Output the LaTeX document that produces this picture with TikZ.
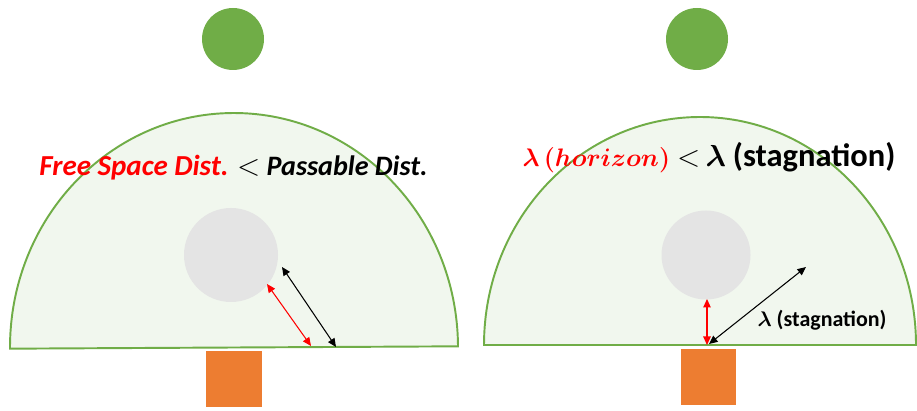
\documentclass[tikz,border=0pt]{standalone}
\usepackage{amsmath,amssymb}
\usepackage{fontspec}
\setsansfont{Carlito}
\usepackage{xcolor}
\usetikzlibrary{arrows.meta}
\definecolor{fovgreen}{HTML}{70AD47}
\definecolor{fovfill}{HTML}{F1F7EE}
\definecolor{obsgray}{HTML}{E4E4E4}
\definecolor{robotorange}{HTML}{ED7D31}
\newcommand{\blam}{\boldsymbol{\lambda}}
\newcommand{\fsz}[1]{\fontsize{#1}{1.2\dimexpr#1pt\relax}\selectfont}

\begin{document}
\begin{tikzpicture}[>={Triangle[length=1.7mm,width=1.5mm]}, font=\sffamily\bfseries, line width=0.6pt,
  dome/.style={draw=fovgreen, fill=fovfill, line width=1.1pt},
  goal/.style={circle, fill=fovgreen, minimum size=12.4mm, inner sep=0pt},
  obst/.style={circle, fill=obsgray, inner sep=0pt},
  robot/.style={fill=robotorange, minimum width=11.1mm, minimum height=11.2mm, inner sep=0pt},
  title/.style={font=\fsz{16}\sffamily\bfseries},
  lbl/.style={font=\fsz{12.5}\sffamily\bfseries}]
\useasboundingbox (0,0) rectangle (18.34,8.2);
%% (a) free space vs passable distance
\begin{scope}
\draw[dome, rotate around={0.3:(4.68,1.25)}] (0.20,1.25) arc[start angle=180, end angle=0, x radius=4.48, y radius=4.69] -- cycle;
\node[goal] (g1) at (4.66,7.42) {};
\node[obst, minimum size=18.8mm] (o1) at (4.62,3.10) {};
\node[robot] (r1) at (4.68,0.62) {};
\coordinate (fa) at (5.34,2.52);
\coordinate (fb) at (6.22,1.28);
\coordinate (pa) at (5.64,2.86);
\coordinate (pb) at (6.72,1.26);
\draw[<->, red] (fa) -- (fb);
\draw[<->] (pa) -- (pb);
\node[title] (t1) at (4.67,4.84) {\textcolor{red}{\fsz{16.5}\itshape Free Space Dist.} $<$ \itshape Passable Dist.};
\end{scope}
%% (b) horizon vs stagnation
\begin{scope}
\draw[dome] (9.68,1.30) arc[start angle=180, end angle=0, x radius=4.32, y radius=4.56] -- cycle;
\node[goal] (g2) at (13.94,7.42) {};
\node[obst, minimum size=17.8mm] (o2) at (14.12,3.10) {};
\node[robot] (r2) at (14.17,0.66) {};
\coordinate (ha) at (14.14,2.22);
\coordinate (hb) at (14.14,1.30);
\coordinate (sa) at (14.18,1.32);
\coordinate (sb) at (16.12,2.86);
\draw[<->, red] (ha) -- (hb);
\draw[<->] (sa) -- (sb);
\node[title, inner sep=0pt] (t2) at (14.18,5.04) {\textcolor{red}{\fsz{15}$\blam\,\boldsymbol{(horizon)}$}\hspace{4pt}{\fsz{16}$<$\hspace{3pt}$\blam$}\hspace{4pt}{\fsz{18.5}(stagnation)}};
\node[lbl] (l2) at (16.44,1.80) {$\blam$ (stagnation)};
\end{scope}
\end{tikzpicture}
\end{document}
